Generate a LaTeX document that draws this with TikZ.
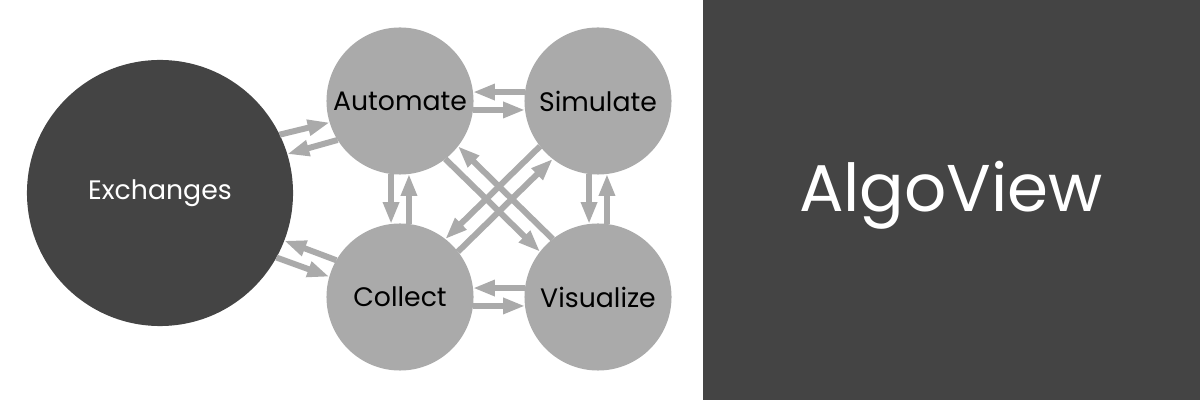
\documentclass[tikz,border=0pt]{standalone}
\usepackage{fontspec}
\setmainfont{Poppins}
\usetikzlibrary{arrows.meta}
\definecolor{darkfillcolor}{HTML}{444444}
\definecolor{lightfillcolor}{HTML}{AAAAAA}

\begin{document}
\begin{tikzpicture}[
	x=0.025cm, y=0.025cm,
	stage/.style={circle, fill=lightfillcolor, inner sep=0pt, minimum size=3.675cm, font=\fontsize{19}{22}\selectfont},
	hub/.style={circle, fill=darkfillcolor, inner sep=0pt, minimum size=6.65cm, text=white, font=\fontsize{19}{22}\selectfont},
	flow/.style={draw=lightfillcolor, line width=0.15cm, -{Triangle[width=0.38cm, length=0.55cm]}},
	every node/.style={outer sep=0pt},
]
\useasboundingbox (0,0) rectangle (1200,400);
% Title panel.
\fill[darkfillcolor] (703,0) rectangle (1200,400);
\node[text=white, font=\fontsize{47}{56}\selectfont] (title) at (951,205) {AlgoView};

\node[hub] (E) at (160,207) {Exchanges};
\node[stage] (A) at (400,299) {Automate};
\node[stage] (S) at (598,299) {Simulate};
\node[stage] (C) at (400,103) {Collect};
\node[stage] (V) at (598,103) {Visualize};

% Exchanges <-> Automate and Collect.
\draw[flow] (E.26) -- (A.197);
\draw[flow] (A.212) -- (E.17);
\draw[flow] (E.-29) -- (C.164);
\draw[flow] (C.150) -- (E.-21);
% Horizontal pairs.
\draw[flow] (A.-7) -- (S.187);
\draw[flow] (S.173) -- (A.7);
\draw[flow] (C.-7) -- (V.187);
\draw[flow] (V.173) -- (C.7);
% Vertical pairs.
\draw[flow] (A.-97) -- (C.97);
\draw[flow] (C.83) -- (A.-83);
\draw[flow] (S.-97) -- (V.97);
\draw[flow] (V.83) -- (S.-83);
% Diagonals.
\draw[flow] (A.-52) -- (V.142);
\draw[flow] (V.128) -- (A.-38);
\draw[flow] (C.38) -- (S.232);
\draw[flow] (S.218) -- (C.52);
\end{tikzpicture}
\end{document}
